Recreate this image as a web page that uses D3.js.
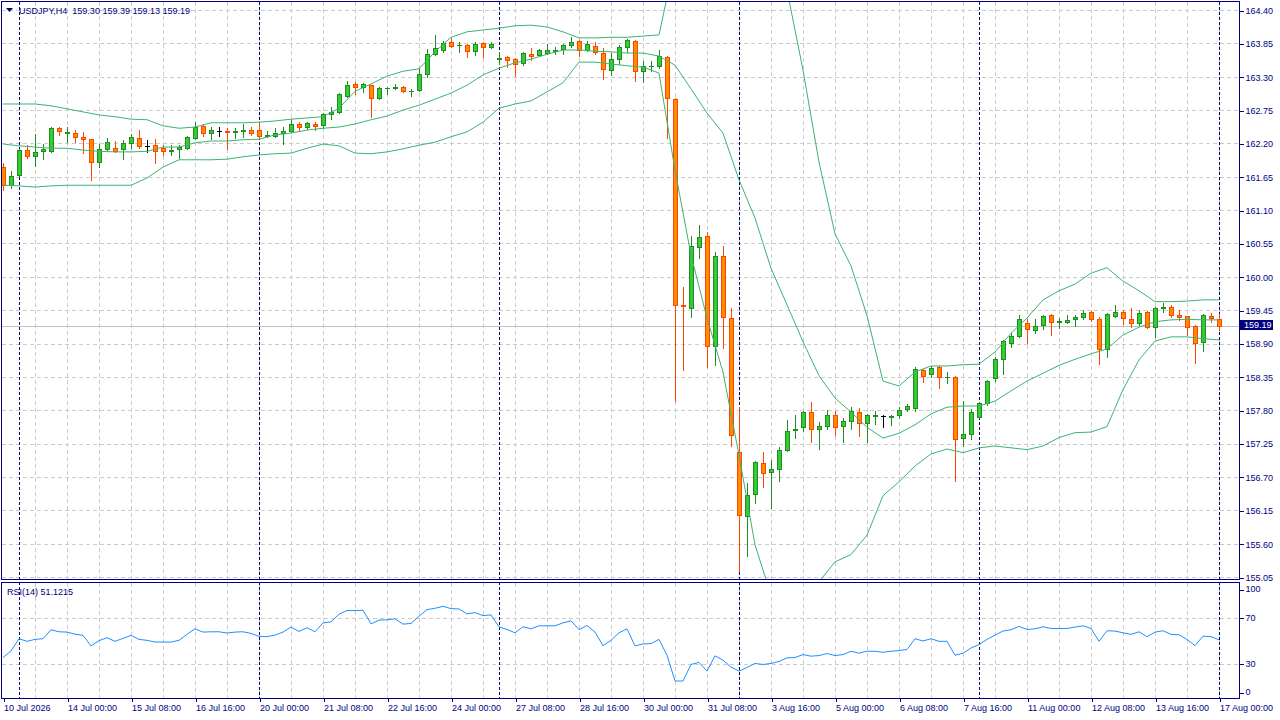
<!DOCTYPE html>
<html>
<head>
<meta charset="utf-8">
<script src="https://cdnjs.cloudflare.com/ajax/libs/d3/7.8.5/d3.min.js"></script>
<style>
  body { margin: 0; background: #fff; }
  svg { display: block; }
  text { font-family: "Liberation Sans", Arial, sans-serif; font-size: 9px; fill: #000080; }
</style>
</head>
<body>
<svg id="chart" width="1280" height="720"></svg>
<script>
// USDJPY H4 bars, first bar Fri 10 Jul 2026 16:00
const opens = [
  161.81,161.51,161.68,162.09,161.99,162.07,162.07,162.45,162.37,162.37,
  162.31,162.27,161.89,162.11,162.12,162.11,162.21,162.29,162.16,162.17,
  162.12,162.08,162.11,162.12,162.29,162.49,162.37,162.40,162.40,162.39,
  162.41,162.42,162.42,162.33,162.32,162.37,162.40,162.52,162.47,162.52,
  162.50,162.68,162.72,162.98,163.18,163.13,163.16,162.95,163.11,163.11,
  163.13,163.06,163.08,163.34,163.67,163.74,163.87,163.82,163.82,163.72,
  163.86,163.79,163.60,163.62,163.59,163.53,163.67,163.66,163.69,163.73,
  163.76,163.82,163.89,163.74,163.81,163.69,163.41,163.59,163.79,163.89,
  163.39,163.47,163.48,163.63,162.93,159.53,159.49,160.50,160.67,158.86,
  160.34,159.32,157.11,156.06,156.42,156.93,156.78,156.83,157.14,157.47,
  157.52,157.77,157.49,157.54,157.72,157.54,157.62,157.77,157.59,157.70,
  157.70,157.69,157.72,157.82,157.84,158.46,158.40,158.51,158.34,158.35,
  157.34,157.41,157.69,157.92,158.33,158.65,158.91,159.03,159.24,159.13,
  159.21,159.37,159.25,159.26,159.30,159.34,159.42,159.30,158.81,159.35,
  159.42,159.30,159.24,159.42,159.17,159.48,159.50,159.37,159.35,159.19,
  158.93,159.35,159.30
];
const highs = [
  161.88,161.74,162.11,162.17,162.36,162.19,162.47,162.47,162.47,162.42,
  162.39,162.28,162.19,162.29,162.24,162.26,162.36,162.42,162.26,162.27,
  162.17,162.17,162.17,162.32,162.55,162.52,162.47,162.47,162.45,162.45,
  162.52,162.47,162.55,162.40,162.45,162.47,162.60,162.55,162.55,162.55,
  162.70,162.80,163.03,163.23,163.21,163.20,163.17,163.13,163.13,163.18,
  163.15,163.10,163.44,163.76,163.99,163.89,163.94,163.87,163.84,163.87,
  163.87,163.87,163.71,163.64,163.61,163.71,163.77,163.76,163.84,163.79,
  163.84,163.95,163.91,163.89,163.87,163.77,163.69,163.82,163.92,163.90,
  163.56,163.56,163.74,163.64,162.95,159.83,160.67,160.85,160.74,160.41,
  160.51,159.49,157.85,156.60,156.96,157.11,156.98,157.19,157.64,157.72,
  157.79,157.94,157.61,157.80,157.79,157.67,157.85,157.84,157.74,157.78,
  157.72,157.72,157.85,157.90,158.51,158.48,158.53,158.53,158.43,158.37,
  157.95,157.82,157.94,158.30,158.67,158.96,159.07,159.37,159.30,159.30,
  159.37,159.39,159.32,159.37,159.37,159.45,159.43,159.34,159.40,159.54,
  159.45,159.49,159.45,159.43,159.50,159.57,159.54,159.45,159.36,159.21,
  159.39,159.40,159.39
];
const lows = [
  161.43,161.46,161.66,161.96,161.83,161.94,162.06,162.34,162.22,162.22,
  162.04,161.60,161.81,162.09,162.06,161.94,162.12,162.12,162.06,161.88,
  162.01,162.01,161.96,162.11,162.27,162.32,162.27,162.32,162.11,162.29,
  162.31,162.34,162.29,162.31,162.31,162.19,162.39,162.42,162.44,162.42,
  162.45,162.60,162.70,162.96,163.01,163.05,162.64,162.93,163.01,163.10,
  163.05,162.98,163.06,163.29,163.66,163.71,163.79,163.71,163.62,163.66,
  163.62,163.77,163.51,163.46,163.31,163.49,163.57,163.64,163.67,163.67,
  163.67,163.79,163.64,163.72,163.67,163.26,163.33,163.51,163.71,163.23,
  163.21,163.39,163.44,162.29,157.95,158.46,159.34,160.31,158.51,158.54,
  158.83,157.21,155.15,155.40,156.27,156.54,156.19,156.64,157.13,157.34,
  157.46,157.28,157.16,157.49,157.39,157.28,157.49,157.38,157.28,157.57,
  157.52,157.56,157.67,157.79,157.78,158.26,158.35,158.17,158.25,156.63,
  157.21,157.33,157.67,157.89,158.28,158.40,158.84,159.01,158.91,159.07,
  159.14,159.04,159.16,159.24,159.19,159.30,159.27,158.56,158.68,159.34,
  159.22,159.17,159.21,159.16,159.01,159.42,159.34,159.29,159.04,158.58,
  158.78,159.26,159.13
];
const closes = [
  161.51,161.66,162.09,161.99,162.06,162.11,162.45,162.40,162.39,162.31,
  162.27,161.89,162.11,162.22,162.07,162.21,162.31,162.16,162.16,162.07,
  162.07,162.09,162.14,162.31,162.47,162.37,162.42,162.40,162.39,162.40,
  162.42,162.37,162.32,162.34,162.37,162.40,162.52,162.47,162.54,162.49,
  162.68,162.72,163.01,163.16,163.13,163.18,162.95,163.11,163.12,163.13,
  163.06,163.07,163.34,163.67,163.77,163.86,163.81,163.83,163.72,163.84,
  163.79,163.84,163.61,163.57,163.51,163.69,163.64,163.74,163.74,163.74,
  163.82,163.87,163.74,163.84,163.71,163.43,163.59,163.79,163.90,163.39,
  163.48,163.48,163.64,162.95,159.54,159.52,160.51,160.66,158.86,160.34,
  159.33,157.39,156.07,156.40,156.95,156.77,156.83,157.14,157.46,157.49,
  157.77,157.49,157.54,157.72,157.52,157.62,157.79,157.59,157.72,157.72,
  157.70,157.70,157.80,157.87,158.48,158.37,158.50,158.35,158.35,157.33,
  157.40,157.77,157.92,158.29,158.65,158.94,159.03,159.30,159.14,159.19,
  159.35,159.26,159.27,159.29,159.34,159.40,159.30,158.81,159.39,159.42,
  159.32,159.24,159.40,159.17,159.49,159.50,159.37,159.34,159.17,158.91,
  159.37,159.32,159.19
];

// Bollinger Bands (20), one reading every second bar
const bandStep = 2;
const bandUpper = [
  162.85,162.85,162.85,162.82,162.77,162.72,162.67,162.64,162.60,162.59,
  162.49,162.45,162.47,162.54,162.54,162.54,162.55,162.57,162.60,162.62,
  162.64,162.78,163.06,163.18,163.31,163.39,163.43,163.71,163.95,164.04,
  164.07,164.10,164.14,164.15,164.12,164.04,163.94,163.94,163.95,163.95,
  163.97,163.99,165.22,165.88,166.13,166.38,166.16,166.38,166.05,164.73,
  163.41,161.89,160.71,160.18,159.36,158.28,158.20,158.43,158.53,158.53,
  158.55,158.56,158.76,159.07,159.32,159.62,159.77,159.88,160.06,160.15,
  159.93,159.77,159.59,159.59,159.60,159.62,159.62
];
const bandMiddle = [
  162.19,162.16,162.14,162.12,162.12,162.09,162.07,162.06,162.06,162.07,
  162.14,162.14,162.21,162.24,162.24,162.26,162.27,162.34,162.37,162.42,
  162.45,162.47,162.52,162.59,162.65,162.75,162.83,162.93,163.03,163.16,
  163.33,163.44,163.53,163.59,163.67,163.74,163.74,163.72,163.71,163.69,
  163.69,163.64,163.49,163.10,162.70,162.37,161.60,160.97,160.14,159.54,
  158.93,158.37,158.00,157.77,157.52,157.34,157.42,157.56,157.74,157.85,
  157.87,157.87,157.95,158.12,158.28,158.41,158.54,158.64,158.73,158.81,
  159.04,159.17,159.26,159.29,159.30,159.29,159.29
];
const bandLower = [
  161.51,161.50,161.48,161.50,161.51,161.51,161.51,161.51,161.51,161.63,
  161.81,161.93,161.93,161.93,161.94,161.98,162.01,162.03,162.04,162.12,
  162.19,162.16,162.04,162.03,162.06,162.11,162.17,162.22,162.31,162.39,
  162.55,162.78,162.85,162.90,163.05,163.20,163.54,163.54,163.51,163.48,
  163.46,163.36,161.76,160.36,159.32,158.43,157.06,155.58,154.75,154.34,
  154.47,154.97,155.30,155.42,155.74,156.39,156.62,156.88,157.08,157.16,
  157.10,157.18,157.21,157.18,157.15,157.21,157.35,157.43,157.44,157.53,
  158.14,158.63,158.94,159.01,159.01,158.98,158.96
];

// RSI(14)
const rsiValues = [
  35.5,41.3,52.0,49.7,51.4,52.0,59.9,58.1,57.8,56.0,
  54.9,45.7,50.3,52.9,49.7,52.3,54.9,51.4,50.6,49.1,
  49.1,49.1,50.6,55.8,60.7,57.8,58.1,58.1,57.0,57.8,
  58.1,56.7,54.1,53.8,55.2,57.8,62.2,58.4,61.6,58.1,
  65.9,66.8,73.5,76.7,76.7,77.0,65.0,68.3,68.6,69.4,
  64.8,65.4,71.7,77.5,78.7,80.4,78.4,78.1,73.8,74.9,
  72.3,72.9,62.5,60.1,57.2,62.5,60.7,63.3,63.3,63.3,
  65.9,67.7,59.9,63.6,57.8,45.9,50.6,57.2,60.7,45.7,
  47.4,47.7,51.4,37.5,14.9,14.9,29.4,31.2,23.6,37.0,
  33.2,27.1,23.6,26.8,30.3,29.4,30.3,32.0,35.2,35.5,
  38.1,36.7,37.2,39.0,37.2,38.1,41.0,39.3,41.0,41.0,
  40.1,41.0,41.6,42.5,52.0,50.0,52.0,49.7,49.7,37.5,
  39.3,43.9,46.8,51.4,55.2,58.7,59.9,62.8,60.1,60.7,
  62.5,61.0,61.0,61.0,62.2,63.3,61.0,49.7,59.0,58.7,
  57.2,55.8,58.1,53.8,57.8,59.0,55.8,55.5,51.4,45.9,
  54.3,53.8,51.1215
];

const priceTicks = [164.40,163.85,163.30,162.75,162.20,161.65,161.10,160.55,160.00,
  159.45,158.90,158.35,157.80,157.25,156.70,156.15,155.60,155.05];
const rsiTicks = [100, 70, 30, 0];
const rsiLevels = [70, 30];

// time labels, one every 8 bars starting at bar 0
const labelEvery = 8;
const timeLabels = ['10 Jul 2026','14 Jul 00:00','15 Jul 08:00','16 Jul 16:00','20 Jul 00:00',
  '21 Jul 08:00','22 Jul 16:00','24 Jul 00:00','27 Jul 08:00','28 Jul 16:00',
  '30 Jul 00:00','31 Jul 08:00','3 Aug 16:00','5 Aug 00:00','6 Aug 08:00',
  '7 Aug 16:00','11 Aug 00:00','12 Aug 08:00','13 Aug 16:00','17 Aug 00:00'];
// Monday 00:00 bars (period separators)
const weekStarts = [2, 32, 62, 92, 122, 152];

const svg = d3.select('#chart');
const plotL = 1.5, plotR = 1239.5;
const mainTop = 1.5, mainBot = 579.5;
const rsiTop = 582.5, rsiBot = 698.5;

const nBars = opens.length;
const x = d3.scaleLinear().domain([0, nBars - 1]).range([3, 3 + 8 * (nBars - 1)]);
const y = d3.scaleLinear().domain([155.05, 164.40]).range([577, 10]);
const yRsi = d3.scaleLinear().domain([0, 100]).range([698, 584]);
const snap = v => Math.round(v) + 0.5;

const navy = '#000080';
const gridColor = '#CCCCCC';

const defs = svg.append('defs');
defs.append('clipPath').attr('id', 'mainClip').append('rect')
  .attr('x', plotL).attr('y', mainTop).attr('width', plotR - plotL).attr('height', mainBot - mainTop);
defs.append('clipPath').attr('id', 'rsiClip').append('rect')
  .attr('x', plotL).attr('y', rsiTop).attr('width', plotR - plotL).attr('height', rsiBot - rsiTop);

// grid
const grid = svg.append('g').attr('shape-rendering', 'crispEdges')
  .attr('stroke', gridColor).attr('stroke-dasharray', '4,3');
grid.selectAll('line.hg').data(priceTicks).join('line')
  .attr('x1', plotL).attr('x2', plotR)
  .attr('y1', d => snap(y(d))).attr('y2', d => snap(y(d)));
grid.selectAll('line.rg').data(rsiLevels).join('line')
  .attr('x1', plotL).attr('x2', plotR)
  .attr('y1', d => snap(yRsi(d))).attr('y2', d => snap(yRsi(d)));
const vGrid = d3.range(4, nBars, 4);
grid.selectAll('line.vg').data(vGrid).join('line')
  .attr('x1', d => x(d) + 0.5).attr('x2', d => x(d) + 0.5)
  .attr('y1', mainTop).attr('y2', mainBot);
grid.selectAll('line.vr').data(vGrid).join('line')
  .attr('x1', d => x(d) + 0.5).attr('x2', d => x(d) + 0.5)
  .attr('y1', rsiTop).attr('y2', rsiBot);

// period separators
const sep = svg.append('g').attr('shape-rendering', 'crispEdges')
  .attr('stroke', navy).attr('stroke-dasharray', '3,2');
sep.selectAll('line').data(weekStarts).join('line')
  .attr('x1', d => x(d) + 0.5).attr('x2', d => x(d) + 0.5)
  .attr('y1', mainTop).attr('y2', rsiBot);

// bid line
const last = nBars - 1;
svg.append('line').attr('shape-rendering', 'crispEdges')
  .attr('x1', plotL).attr('x2', plotR)
  .attr('y1', snap(y(closes[last]))).attr('y2', snap(y(closes[last])))
  .attr('stroke', '#C0C0C0');

// candles
const bars = d3.range(nBars).map(i => ({ i, o: opens[i], h: highs[i], l: lows[i], c: closes[i] }));
const main = svg.append('g').attr('clip-path', 'url(#mainClip)');
const cg = main.append('g').attr('shape-rendering', 'crispEdges');
const candle = cg.selectAll('g').data(bars).join('g');

function kind(d) {
  if (d.c > d.o) return 'bull';
  if (d.c < d.o) return 'bear';
  return 'doji';
}
const wickColor = { bull: '#228B22', bear: '#FF4500', doji: '#000000' };
const bodyFill = { bull: '#32CD32', bear: '#FF8C00', doji: '#000000' };

candle.append('line')
  .attr('x1', d => x(d.i) + 0.5).attr('x2', d => x(d.i) + 0.5)
  .attr('y1', d => Math.round(y(d.h)))
  .attr('y2', d => Math.round(y(d.l)) + 1)
  .attr('stroke', d => wickColor[kind(d)]);

candle.each(function (d) {
  const g = d3.select(this);
  const top = Math.round(y(Math.max(d.o, d.c)));
  const bot = Math.round(y(Math.min(d.o, d.c)));
  const X = x(d.i);
  const k = kind(d);
  if (bot - top < 1) {
    g.append('line')
      .attr('x1', X - 2).attr('x2', X + 3)
      .attr('y1', top + 0.5).attr('y2', top + 0.5)
      .attr('stroke', wickColor[k]);
  } else {
    g.append('rect')
      .attr('x', X - 1.5).attr('y', top + 0.5)
      .attr('width', 4).attr('height', bot - top)
      .attr('fill', bodyFill[k]).attr('stroke', wickColor[k]);
  }
});

// bands
const bandLine = d3.line().x((d, i) => x(i * bandStep)).y(d => y(d));
main.selectAll('path.band').data([bandUpper, bandMiddle, bandLower]).join('path')
  .attr('d', bandLine)
  .attr('fill', 'none')
  .attr('stroke', '#3CB371')
  .attr('stroke-width', 1);

// RSI
const rsiLine = d3.line().x((d, i) => x(i)).y(d => yRsi(d));
svg.append('g').attr('clip-path', 'url(#rsiClip)').append('path')
  .datum(rsiValues)
  .attr('d', rsiLine)
  .attr('fill', 'none')
  .attr('stroke', '#1E90FF')
  .attr('stroke-width', 1);

// frames
const frame = svg.append('g').attr('shape-rendering', 'crispEdges').attr('fill', 'none').attr('stroke', navy);
frame.append('rect').attr('x', plotL).attr('y', mainTop).attr('width', plotR - plotL).attr('height', mainBot - mainTop);
frame.append('rect').attr('x', plotL).attr('y', rsiTop).attr('width', plotR - plotL).attr('height', rsiBot - rsiTop);

// price axis
const priceAxis = d3.axisRight(y).tickValues(priceTicks).tickSize(4).tickPadding(2)
  .tickFormat(d3.format('.2f'));
const pa = svg.append('g').attr('transform', `translate(${plotR},0.5)`).call(priceAxis);
pa.select('.domain').remove();
pa.selectAll('.tick line').attr('stroke', navy).attr('shape-rendering', 'crispEdges');
pa.selectAll('.tick text').attr('fill', navy).attr('font-size', null).attr('font-family', null);

// RSI axis (end labels kept inside the window)
const rsiLabelY = v => Math.min(Math.max(yRsi(v), 589.5), 692.5);
const ra = svg.append('g').attr('shape-rendering', 'crispEdges');
ra.selectAll('line').data(rsiTicks).join('line')
  .attr('x1', plotR).attr('x2', plotR + 4)
  .attr('y1', d => snap(rsiLabelY(d))).attr('y2', d => snap(rsiLabelY(d)))
  .attr('stroke', navy);
ra.selectAll('text').data(rsiTicks).join('text')
  .attr('x', plotR + 6).attr('y', d => rsiLabelY(d)).attr('dy', '0.32em')
  .text(d => d);

// time axis
const labelBars = timeLabels.map((t, k) => k * labelEvery);
const timeAxis = d3.axisBottom(x).tickValues(labelBars).tickSize(3).tickPadding(3)
  .tickFormat((d, k) => timeLabels[k]);
const ta = svg.append('g').attr('transform', `translate(0.5,${rsiBot})`).call(timeAxis);
ta.select('.domain').remove();
ta.selectAll('.tick line').attr('stroke', navy).attr('shape-rendering', 'crispEdges');
ta.selectAll('.tick text').attr('fill', navy).attr('font-size', null).attr('font-family', null)
  .attr('text-anchor', 'start').attr('x', 0);

// last price tag
const lastY = y(closes[last]);
svg.append('rect').attr('x', 1240).attr('y', Math.round(lastY) - 6).attr('width', 33).attr('height', 10)
  .attr('fill', navy);
svg.append('text').attr('x', 1244).attr('y', lastY - 1).attr('dy', '0.32em')
  .style('fill', '#fff').text(d3.format('.2f')(closes[last]));

// header
svg.append('path').attr('d', 'M6,8 L13,8 L9.5,12 Z').attr('fill', navy);
const f2 = d3.format('.2f');
svg.append('text').attr('x', 19).attr('y', 14)
  .attr('xml:space', 'preserve').style('white-space', 'pre')
  .text(`USDJPY,H4  ${f2(opens[last])} ${f2(highs[last])} ${f2(lows[last])} ${f2(closes[last])}`);
svg.append('text').attr('x', 7).attr('y', 595)
  .text(`RSI(14) ${d3.format('.4f')(rsiValues[last])}`);
</script>
</body>
</html>
